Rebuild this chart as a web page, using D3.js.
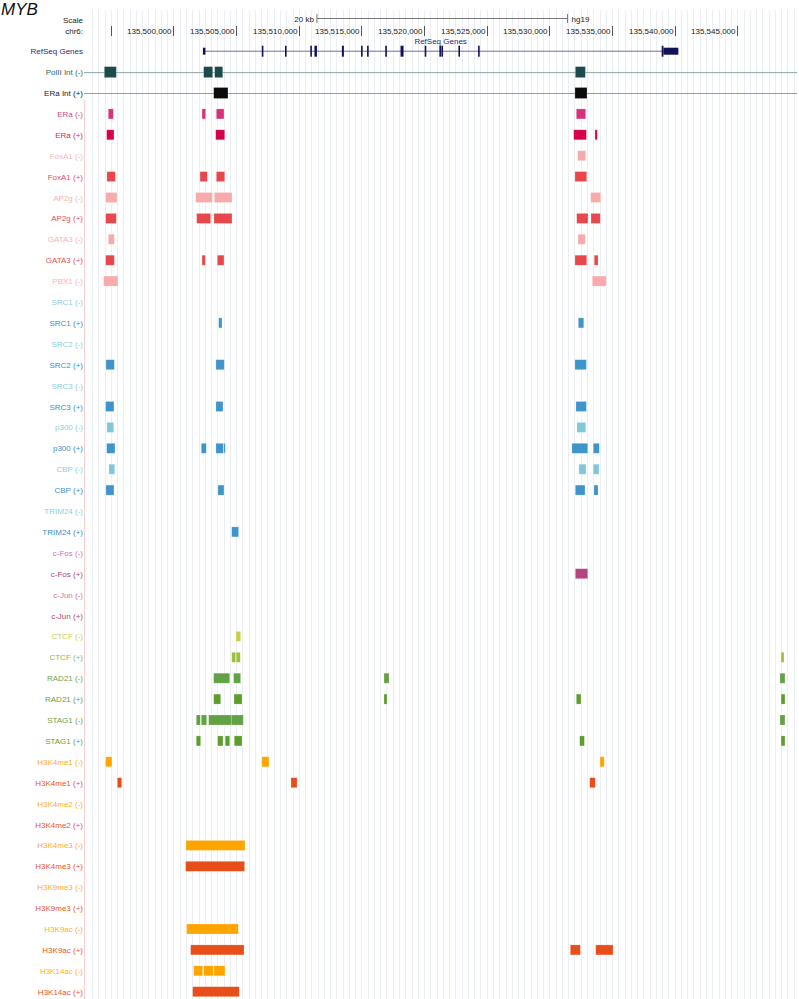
<!DOCTYPE html>
<html>
<head>
<meta charset="utf-8">
<script src="https://cdn.jsdelivr.net/npm/d3@7/dist/d3.min.js"></script>
<style>
  body { margin: 0; background: #fff; }
  svg { display: block; font-family: "Liberation Sans", Arial, sans-serif; }
</style>
</head>
<body>
<div id="chart"></div>
<script>
// ---- data: chr6 window and features (hg19) ----
var viewStart = 135493020, viewEnd = 135549760;
var tickValues = [135495000, 135500000, 135505000, 135510000, 135515000, 135520000,
                  135525000, 135530000, 135535000, 135540000, 135545000];
var tickLabels = ["", "135,500,000", "135,505,000", "135,510,000", "135,515,000", "135,520,000",
                  "135,525,000", "135,530,000", "135,535,000", "135,540,000", "135,545,000"];
var scaleBar = [135511450, 135531450];   // 20 kb

// MYB RefSeq gene
var exonStarts = [135502350, 135507050, 135508900, 135510920, 135511250, 135513440, 135514970, 135515450,
                  135516900, 135518120, 135520050, 135521220, 135521380, 135522740, 135524310, 135538960];
var exonEnds   = [135502550, 135507150, 135509000, 135511020, 135511450, 135513600, 135515070, 135515550,
                  135517030, 135518360, 135520150, 135521320, 135521480, 135522840, 135524410, 135540290];
var cdsStart = 135502550, cdsEnd = 135539100;

// peaks per track [start, end]
var polII = [[135494480,135495440],[135502410,135503130],[135503290,135503930],[135532070,135532870]];
var eraInt = [[135503210,135504350],[135532040,135533000]];
var eraMinus = [[135494800,135495200],[135502280,135502570],[135503420,135504030],[135532150,135532900]];
var eraPlus = [[135494670,135495250],[135503370,135504090],[135531940,135532950],[135533640,135533820]];
var foxa1Minus = [[135532260,135532900]];
var foxa1Plus = [[135494690,135495360],[135502120,135502700],[135503420,135504090],[135532040,135532980]];
var ap2gMinus = [[135494590,135495490],[135501770,135503100],[135503260,135504670],[135533300,135534100]];
var ap2gPlus = [[135494590,135495440],[135501850,135502970],[135503230,135504670],[135532180,135533080],[135533320,135534060]];
var gata3Minus = [[135494800,135495280],[135532280,135532870]];
var gata3Plus = [[135494590,135495280],[135502280,135502540],[135503500,135504030],[135532040,135532980],[135533580,135533880]];
var pbx1Minus = [[135494430,135495570],[135533420,135534540]];
var src1Minus = [];
var src1Plus = [[135503610,135503870],[135532310,135532740]];
var src2Minus = [];
var src2Plus = [[135494610,135495280],[135503390,135504050],[135532040,135532950]];
var src3Minus = [];
var src3Plus = [[135494590,135495250],[135503390,135503950],[135532120,135532950]];
var p300Minus = [[135494690,135495230],[135532200,135532900]];
var p300Plus = [[135494670,135495330],[135502220,135502620],[135503390,135503970],[135504010,135504110],[135531800,135533060],[135533500,135533980]];
var cbpMinus = [[135494850,135495310],[135532360,135532920],[135533500,135533960]];
var cbpPlus = [[135494610,135495250],[135503550,135504030],[135532070,135532840],[135533560,135533880]];
var trim24Minus = [];
var trim24Plus = [[135504650,135505200]];
var cfosMinus = [];
var cfosPlus = [[135532070,135533060]];
var cjunMinus = [];
var cjunPlus = [];
var ctcfMinus = [[135504990,135505360]];
var ctcfPlus = [[135504650,135504960],[135505010,135505330],[135548490,135548720]];
var rad21Minus = [[135503210,135504490],[135504800,135505360],[135516800,135517200],[135548400,135548800]];
var rad21Plus = [[135503210,135503770],[135504830,135505470],[135516800,135517040],[135532150,135532520],[135548490,135548800]];
var stag1Minus = [[135501820,135502140],[135502220,135502650],[135502810,135504610],[135504610,135505570],[135548400,135548800]];
var stag1Plus = [[135501820,135502170],[135503530,135503950],[135504130,135504490],[135504850,135505470],[135532420,135532790],[135548490,135548800]];
var h3k4me1Minus = [[135494590,135495090],[135507060,135507620],[135534040,135534380]];
var h3k4me1Plus = [[135495520,135495870],[135509380,135509860],[135533220,135533660]];
var h3k4me2Minus = [];
var h3k4me2Plus = [];
var h3k4me3Minus = [[135501000,135505710]];
var h3k4me3Plus = [[135500970,135505680]];
var h3k9me3Minus = [];
var h3k9me3Plus = [];
var h3k9acMinus = [[135501050,135505170]];
var h3k9acPlus = [[135501370,135505630],[135531670,135532470],[135533700,135535080]];
var h3k14acMinus = [[135501610,135502330],[135502410,135503180],[135503230,135504110]];
var h3k14acPlus = [[135501530,135505250]];

var tracks = [
  ["PolII Int (-)", polII], ["ERa Int (+)", eraInt],
  ["ERa (-)", eraMinus], ["ERa (+)", eraPlus],
  ["FoxA1 (-)", foxa1Minus], ["FoxA1 (+)", foxa1Plus],
  ["AP2g (-)", ap2gMinus], ["AP2g (+)", ap2gPlus],
  ["GATA3 (-)", gata3Minus], ["GATA3 (+)", gata3Plus],
  ["PBX1 (-)", pbx1Minus],
  ["SRC1 (-)", src1Minus], ["SRC1 (+)", src1Plus],
  ["SRC2 (-)", src2Minus], ["SRC2 (+)", src2Plus],
  ["SRC3 (-)", src3Minus], ["SRC3 (+)", src3Plus],
  ["p300 (-)", p300Minus], ["p300 (+)", p300Plus],
  ["CBP (-)", cbpMinus], ["CBP (+)", cbpPlus],
  ["TRIM24 (-)", trim24Minus], ["TRIM24 (+)", trim24Plus],
  ["c-Fos (-)", cfosMinus], ["c-Fos (+)", cfosPlus],
  ["c-Jun (-)", cjunMinus], ["c-Jun (+)", cjunPlus],
  ["CTCF (-)", ctcfMinus], ["CTCF (+)", ctcfPlus],
  ["RAD21 (-)", rad21Minus], ["RAD21 (+)", rad21Plus],
  ["STAG1 (-)", stag1Minus], ["STAG1 (+)", stag1Plus],
  ["H3K4me1 (-)", h3k4me1Minus], ["H3K4me1 (+)", h3k4me1Plus],
  ["H3K4me2 (-)", h3k4me2Minus], ["H3K4me2 (+)", h3k4me2Plus],
  ["H3K4me3 (-)", h3k4me3Minus], ["H3K4me3 (+)", h3k4me3Plus],
  ["H3K9me3 (-)", h3k9me3Minus], ["H3K9me3 (+)", h3k9me3Plus],
  ["H3K9ac (-)", h3k9acMinus], ["H3K9ac (+)", h3k9acPlus],
  ["H3K14ac (-)", h3k14acMinus], ["H3K14ac (+)", h3k14acPlus]
];

// ---- styles: [label colour, block colour] by factor / strand ----
var styles = {
  "PolII Int": ["#2f6b6b", "#1c4b4b"],
  "ERa Int":   ["#222222", "#0b0b0b"],
  "ERa-":   ["#d2487f", "#d8307a"], "ERa+": ["#cc2a5c", "#d6004b"],
  "red-":   ["#f6b4b4", "#f9aaaa"], "red+": ["#e2505a", "#e8484b"],
  "blue-":  ["#8ccde0", "#7ec8da"], "blue+": ["#3e90c6", "#3f94cb"],
  "fos-":   ["#d274aa", "#c9609b"], "fos+": ["#b23e84", "#b5457f"],
  "ctcf-":  ["#c9cf4e", "#c8d23c"], "ctcf+": ["#97b640", "#9dc03a"],
  "green-": ["#6aa54c", "#63a244"], "green+": ["#6a9f34", "#5c9e2c"],
  "hist-":  ["#ffae1e", "#ffa500"], "hist+": ["#e8561f", "#e84e1a"]
};
function styleFor(name) {
  var base = name.split(" (")[0], s = name.indexOf("(-)") >= 0 ? "-" : "+";
  if (base === "PolII Int" || base === "ERa Int") return styles[base];
  if (base === "ERa") return styles["ERa" + s];
  if (["FoxA1", "AP2g", "GATA3", "PBX1"].indexOf(base) >= 0) return styles["red" + s];
  if (["SRC1", "SRC2", "SRC3", "p300", "CBP", "TRIM24"].indexOf(base) >= 0) return styles["blue" + s];
  if (base === "c-Fos" || base === "c-Jun") return styles["fos" + s];
  if (base === "CTCF") return styles["ctcf" + s];
  if (base === "RAD21" || base === "STAG1") return styles["green" + s];
  return styles["hist" + s];
}

// ---- layout ----
var W = 799, H = 999, labelRight = 83, left = 86, right = 797;
var svg = d3.select("#chart").append("svg").attr("width", W).attr("height", H);

var x = d3.scaleLinear().domain([viewStart, viewEnd]).range([left, right]);
// row 0 = RefSeq Genes, then one row per track
var rowY = d3.scaleLinear().domain([0, 1]).range([51.2, 72.1]);

// guidelines every 500 bp
svg.append("g").selectAll("line")
  .data(d3.range(Math.ceil(viewStart / 500) * 500, viewEnd, 500))
  .enter().append("line")
    .attr("x1", function(d) { return Math.round(x(d)) + 0.5; })
    .attr("x2", function(d) { return Math.round(x(d)) + 0.5; })
    .attr("y1", 10).attr("y2", H)
    .attr("stroke", "#eceef6").attr("stroke-width", 1);

svg.append("line")
  .attr("x1", 84.5).attr("x2", 84.5).attr("y1", 100).attr("y2", H)
  .attr("stroke", "#f7cfcf");

// title
svg.append("text").attr("x", 1).attr("y", 15)
  .style("font-size", "17px").style("font-style", "italic").attr("fill", "#111")
  .text("MYB");

// scale bar
var sb = svg.append("g").attr("stroke", "#777").attr("stroke-width", 1);
sb.append("line").attr("x1", x(scaleBar[0])).attr("x2", x(scaleBar[1])).attr("y1", 18.5).attr("y2", 18.5);
sb.append("line").attr("x1", x(scaleBar[0])).attr("x2", x(scaleBar[0])).attr("y1", 14).attr("y2", 23);
sb.append("line").attr("x1", x(scaleBar[1])).attr("x2", x(scaleBar[1])).attr("y1", 14).attr("y2", 23);
svg.append("text").attr("x", x(scaleBar[0]) - 3).attr("y", 22).attr("text-anchor", "end")
  .style("font-size", "8px").attr("fill", "#222").text("20 kb");
svg.append("text").attr("x", x(scaleBar[1]) + 4).attr("y", 22)
  .style("font-size", "8px").attr("fill", "#222").text("hg19");

svg.append("text").attr("x", labelRight).attr("y", 23).attr("text-anchor", "end")
  .style("font-size", "8px").attr("fill", "#222").text("Scale");
svg.append("text").attr("x", labelRight).attr("y", 34).attr("text-anchor", "end")
  .style("font-size", "8px").attr("fill", "#222").text("chr6:");

// position axis
var ticks = svg.append("g").selectAll("g").data(tickValues).enter().append("g")
  .attr("transform", function(d) { return "translate(" + (Math.round(x(d)) + 0.5) + ",0)"; });
ticks.append("line").attr("y1", 26).attr("y2", 36).attr("stroke", "#555");
ticks.append("text").attr("x", -2).attr("y", 34).attr("text-anchor", "end")
  .style("font-size", "8px").attr("fill", "#222")
  .text(function(d, i) { return tickLabels[i]; });

// RefSeq gene track
var gy = rowY(0);
svg.append("text").attr("x", labelRight).attr("y", gy + 3).attr("text-anchor", "end")
  .style("font-size", "8px").attr("fill", "#2a2a78").text("RefSeq Genes");
svg.append("text").attr("x", x((exonStarts[0] + exonEnds[exonEnds.length - 1]) / 2)).attr("y", 44)
  .attr("text-anchor", "middle").style("font-size", "8px").attr("fill", "#2a2a78").text("RefSeq Genes");
svg.append("line")
  .attr("x1", x(exonStarts[0])).attr("x2", x(exonEnds[exonEnds.length - 1]))
  .attr("y1", gy).attr("y2", gy).attr("stroke", "#6c6cae").attr("stroke-width", 1);
var gene = svg.append("g").attr("fill", "#12125a");
exonStarts.forEach(function(s, i) {
  var e = exonEnds[i];
  // UTR parts (thin)
  [[s, Math.min(e, cdsStart)], [Math.max(s, cdsEnd), e]].forEach(function(p) {
    if (p[1] > p[0]) gene.append("rect").attr("x", x(p[0])).attr("y", gy - 3.5)
      .attr("width", Math.max(1.5, x(p[1]) - x(p[0]))).attr("height", 7);
  });
  // coding part (thick)
  var cs = Math.max(s, cdsStart), ce = Math.min(e, cdsEnd);
  if (ce > cs) gene.append("rect").attr("x", x(cs)).attr("y", gy - 5.5)
    .attr("width", Math.max(1.6, x(ce) - x(cs))).attr("height", 11);
});

// feature tracks
var rows = svg.append("g").selectAll("g").data(tracks).enter().append("g")
  .attr("transform", function(d, i) { return "translate(0," + rowY(i + 1) + ")"; });

rows.append("text").attr("x", labelRight).attr("y", 3).attr("text-anchor", "end")
  .style("font-size", "8px")
  .attr("fill", function(d) { return styleFor(d[0])[0]; })
  .text(function(d) { return d[0]; });

rows.filter(function(d, i) { return i < 2; }).append("line")
  .attr("x1", 84).attr("x2", right).attr("y1", 0.5).attr("y2", 0.5)
  .attr("stroke", function(d, i) { return i === 0 ? "#8fa8a8" : "#9a9a9a"; });

rows.each(function(d, i) {
  var h = i < 2 ? 11 : 10, col = styleFor(d[0])[1];
  d3.select(this).selectAll("rect").data(d[1]).enter().append("rect")
    .attr("x", function(p) { return x(p[0]); })
    .attr("width", function(p) { return Math.max(1.5, x(p[1]) - x(p[0])); })
    .attr("y", -h / 2).attr("height", h)
    .attr("fill", col)
    .attr("stroke", "rgba(255,255,255,0.35)").attr("stroke-width", 0.6);
});
</script>
</body>
</html>
